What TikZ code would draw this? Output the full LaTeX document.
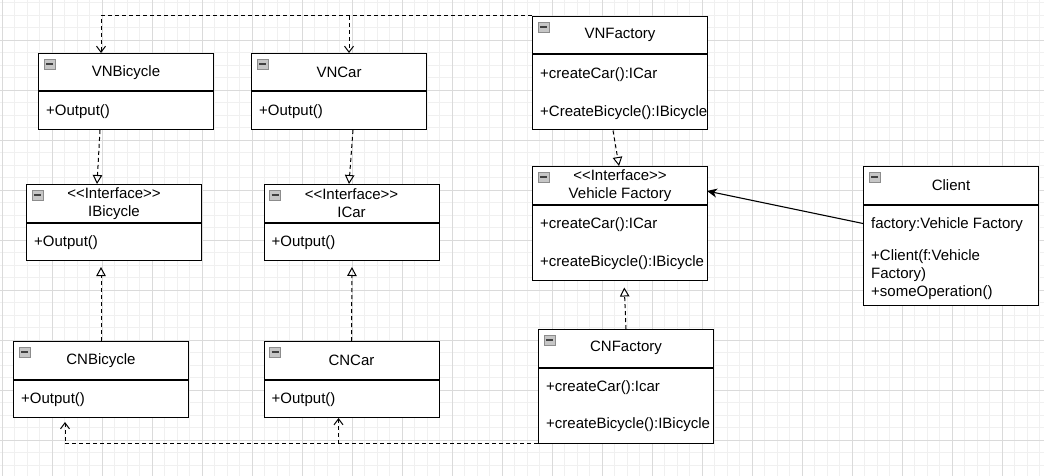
\documentclass[tikz,border=0pt]{standalone}
\usepackage{fontspec}
\setmainfont{Liberation Sans}
\usetikzlibrary{arrows.meta}

\definecolor{gridmajor}{HTML}{DADADA}
\definecolor{gridminor}{HTML}{F0F0F0}
\definecolor{iconfill}{HTML}{C6C6C6}
\definecolor{iconedge}{HTML}{8C8C8C}

\tikzset{
  classhead/.style={draw, fill=white, line width=1pt, anchor=north west, minimum width=175, minimum height=37.5, inner sep=0pt, align=center, font=\fontsize{15}{18}\selectfont},
  classbody/.style={draw, fill=white, line width=1pt, anchor=north west, minimum width=175, inner sep=0pt},
  member/.style={anchor=base west, inner sep=0pt, font=\fontsize{15}{18}\selectfont},
  realize/.style={dash pattern=on 4pt off 3pt, line width=1pt, -{Triangle[open,length=9pt,width=9.5pt]}},
  depend/.style={dash pattern=on 4pt off 3pt, line width=1pt, -{Straight Barb[length=6pt,width=9pt]}},
  assoc/.style={line width=1.1pt, -{Stealth[length=10pt,width=9pt,inset=3pt]}},
  collapse/.pic={
    \draw[iconedge, fill=iconfill, line width=0.8pt] (0,0) rectangle (11,10);
    \draw[black!75, line width=1.6pt] (2,5) -- (9,5);
  }
}

\begin{document}
\begin{tikzpicture}[x=1pt, y=-1pt]
  \useasboundingbox (0,0) rectangle (1044,476);
  \fill[white] (0,0) rectangle (1044,476);

  % Draw the background grid
  \foreach \gx in {0,...,83} \draw[gridminor] (2+12.5*\gx,0) -- (2+12.5*\gx,476);
  \foreach \gy in {0,...,37} \draw[gridminor] (0,2.5+12.5*\gy) -- (1044,2.5+12.5*\gy);
  \foreach \gx in {0,...,20} \draw[gridmajor] (2+50*\gx,0) -- (2+50*\gx,476);
  \foreach \gy in {0,...,8} \draw[gridmajor] (0,40+50*\gy) -- (1044,40+50*\gy);

  % Top row: concrete products of the VN family
  \node[classhead] (vnb) at (38,53) {VNBicycle};
  \node[classbody, minimum height=37.5] (vnb-b) at (vnb.south west) {};
  \node[member] (vnb-m1) at ([shift={(8,24)}]vnb-b.north west) {+Output()};
  \pic at ([shift={(6,6)}]vnb.north west) {collapse};

  \node[classhead] (vnc) at (251,53) {VNCar};
  \node[classbody, minimum height=37.5] (vnc-b) at (vnc.south west) {};
  \node[member] (vnc-m1) at ([shift={(8,24)}]vnc-b.north west) {+Output()};
  \pic at ([shift={(6,6)}]vnc.north west) {collapse};

  \node[classhead] (vnf) at (532,16) {VNFactory};
  \node[classbody, minimum height=75] (vnf-b) at (vnf.south west) {};
  \node[member] (vnf-m1) at ([shift={(8,24)}]vnf-b.north west) {+createCar():ICar};
  \begin{scope}
    \clip (vnf-b.north west) rectangle (vnf-b.south east);
    \node[member] (vnf-m2) at ([shift={(8,62)}]vnf-b.north west) {+CreateBicycle():IBicycle};
  \end{scope}
  \pic at ([shift={(6,6)}]vnf.north west) {collapse};

  % Middle row: interfaces and the client
  \node[classhead] (ib) at (26,184) {<{}<Interface>{}>\\IBicycle};
  \node[classbody, minimum height=37.5] (ib-b) at (ib.south west) {};
  \node[member] (ib-m1) at ([shift={(8,24)}]ib-b.north west) {+Output()};
  \pic at ([shift={(6,6)}]ib.north west) {collapse};

  \node[classhead] (ic) at (263.5,184) {<{}<Interface>{}>\\ICar};
  \node[classbody, minimum height=37.5] (ic-b) at (ic.south west) {};
  \node[member] (ic-m1) at ([shift={(8,24)}]ic-b.north west) {+Output()};
  \pic at ([shift={(6,6)}]ic.north west) {collapse};

  \node[classhead] (vf) at (532,166) {<{}<Interface>{}>\\Vehicle Factory};
  \node[classbody, minimum height=75] (vf-b) at (vf.south west) {};
  \node[member] (vf-m1) at ([shift={(8,24)}]vf-b.north west) {+createCar():ICar};
  \node[member] (vf-m2) at ([shift={(8,62)}]vf-b.north west) {+createBicycle():IBicycle};
  \pic at ([shift={(6,6)}]vf.north west) {collapse};

  \node[classhead] (cl) at (863,166) {Client};
  \node[classbody, minimum height=100] (cl-b) at (cl.south west) {};
  \node[member] (cl-m1) at ([shift={(8,24)}]cl-b.north west) {factory:Vehicle Factory};
  \node[member] (cl-m2) at ([shift={(8,56)}]cl-b.north west) {+Client(f:Vehicle};
  \node[member] (cl-m3) at ([shift={(8,74)}]cl-b.north west) {Factory)};
  \node[member] (cl-m4) at ([shift={(8,92)}]cl-b.north west) {+someOperation()};
  \pic at ([shift={(6,6)}]cl.north west) {collapse};

  % Bottom row: concrete products of the CN family
  \node[classhead] (cnb) at (13,341) {CNBicycle};
  \node[classbody, minimum height=37.5] (cnb-b) at (cnb.south west) {};
  \node[member] (cnb-m1) at ([shift={(8,24)}]cnb-b.north west) {+Output()};
  \pic at ([shift={(6,6)}]cnb.north west) {collapse};

  \node[classhead] (cnc) at (263.5,341) {CNCar};
  \node[classbody, minimum height=37.5] (cnc-b) at (cnc.south west) {};
  \node[member] (cnc-m1) at ([shift={(8,24)}]cnc-b.north west) {+Output()};
  \pic at ([shift={(6,6)}]cnc.north west) {collapse};

  \node[classhead] (cnf) at (538,329) {CNFactory};
  \node[classbody, minimum height=75] (cnf-b) at (cnf.south west) {};
  \node[member] (cnf-m1) at ([shift={(8,24)}]cnf-b.north west) {+createCar():Icar};
  \node[member] (cnf-m2) at ([shift={(8,61)}]cnf-b.north west) {+createBicycle():IBicycle};
  \pic at ([shift={(6,6)}]cnf.north west) {collapse};

  % Factories create their products
  \coordinate (vnb-in) at ([shift={(63,0)}]vnb.north west);
  \coordinate (vnc-in) at ([shift={(98,0)}]vnc.north west);
  \draw[depend] (vnf.north west) -| (vnb-in);
  \draw[depend] (vnc-in |- vnf.north west) -- (vnc-in);

  \coordinate (cnb-in) at ([shift={(52,4)}]cnb-b.south west);
  \coordinate (cnc-in) at ([shift={(75,0)}]cnc-b.south west);
  \draw[depend] (cnf-b.south west) -| (cnb-in);
  \draw[depend] (cnc-in |- cnf-b.south west) -- (cnc-in);

  % Realizations of the interfaces
  \draw[realize] ([shift={(62,0)}]vnb-b.south west) -- ([shift={(71,0)}]ib.north west);
  \draw[realize] ([shift={(102,0)}]vnc-b.south west) -- ([shift={(85.5,0)}]ic.north west);
  \draw[realize] ([shift={(81,0)}]vnf-b.south west) -- ([shift={(87,0)}]vf.north west);
  \draw[realize, shorten >=6pt] ([shift={(88,0)}]cnb.north west) -- ([shift={(75,0)}]ib-b.south west);
  \draw[realize, shorten >=6pt] ([shift={(88,0)}]cnc.north west) -- ([shift={(88.5,0)}]ic-b.south west);
  \draw[realize, shorten >=7pt] ([shift={(88,0)}]cnf.north west) -- ([shift={(92,0)}]vf-b.south west);

  % Client uses the abstract factory
  \draw[assoc] ([shift={(0,19)}]cl-b.north west) -- ([shift={(175,25)}]vf.north west);
\end{tikzpicture}
\end{document}
